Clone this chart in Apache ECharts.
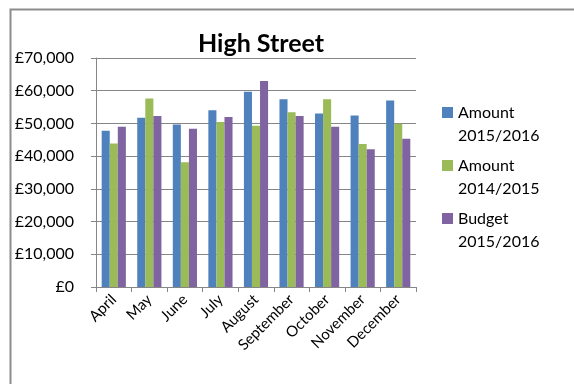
<!DOCTYPE html>
<html>
<head>
<meta charset="utf-8">
<script src="https://cdn.jsdelivr.net/npm/echarts@6/dist/echarts.min.js"></script>
<style>
html, body { margin: 0; padding: 0; background: #fff; }
#chart { width: 574px; height: 384px; }
</style>
</head>
<body>
<div id="chart"></div>
<script>
var myChart = echarts.init(document.getElementById('chart'));

// data
var months = ['April', 'May', 'June', 'July', 'August', 'September', 'October', 'November', 'December'];
var amount1516 = [47800, 51700, 49700, 54000, 59700, 57400, 53000, 52400, 57000];
var amount1415 = [43900, 57600, 38100, 50400, 49300, 53400, 57400, 43700, 49900];
var budget1516 = [49000, 52300, 48400, 52000, 63000, 52300, 49000, 42100, 45300];
var yTicks = [0, 70000, 10000]; // min, max, step

var font = 'Lato';
var gray = '#868686';

function money(v) {
    return '£' + v.toLocaleString('en-GB');
}

var option = {
    animation: false,
    textStyle: { fontFamily: font },
    graphic: [{
        type: 'rect',
        left: 8, top: 7,
        shape: { width: 600, height: 420 },
        style: { fill: 'none', stroke: '#8c8c8c', lineWidth: 2 }
    }],
    title: {
        text: 'High Street',
        left: 198,
        top: 31,
        padding: 0,
        textStyle: { fontFamily: font, fontSize: 25, fontWeight: 'bold', color: '#000' }
    },
    grid: { left: 96, right: 158, top: 58, bottom: 97, containLabel: false },
    legend: {
        orient: 'vertical',
        left: 442,
        top: 101,
        padding: 0,
        itemWidth: 11,
        itemHeight: 34,
        itemGap: 7,
        // square on the first text line; the tiny second subpath only stretches the box
        icon: 'path://M0,0h11v11h-11zM0,34h0.05v-0.05h-0.05z',
        formatter: function (name) { return name.replace(' ', '\n'); },
        textStyle: { fontFamily: font, fontSize: 16, lineHeight: 23, color: '#000' }
    },
    xAxis: {
        type: 'category',
        data: months,
        axisLine: { lineStyle: { color: gray, width: 1 } },
        axisTick: { show: true, length: 5, lineStyle: { color: gray } },
        axisLabel: { rotate: 45, color: '#000', fontSize: 15, margin: 10, interval: 0 }
    },
    yAxis: {
        type: 'value',
        min: yTicks[0], max: yTicks[1], interval: yTicks[2],
        axisLine: { show: true, lineStyle: { color: gray } },
        axisTick: { show: true, length: 5, lineStyle: { color: gray } },
        splitLine: { lineStyle: { color: gray } },
        axisLabel: { formatter: money, color: '#000', fontSize: 16, margin: 22 }
    },
    series: [
        { name: 'Amount 2015/2016', type: 'bar', data: amount1516, itemStyle: { color: '#4F81BD' }, barGap: '0%', barCategoryGap: '32%' },
        { name: 'Amount 2014/2015', type: 'bar', data: amount1415, itemStyle: { color: '#9BBB59' } },
        { name: 'Budget 2015/2016', type: 'bar', data: budget1516, itemStyle: { color: '#8064A2' } }
    ]
};

myChart.setOption(option);
</script>
</body>
</html>
